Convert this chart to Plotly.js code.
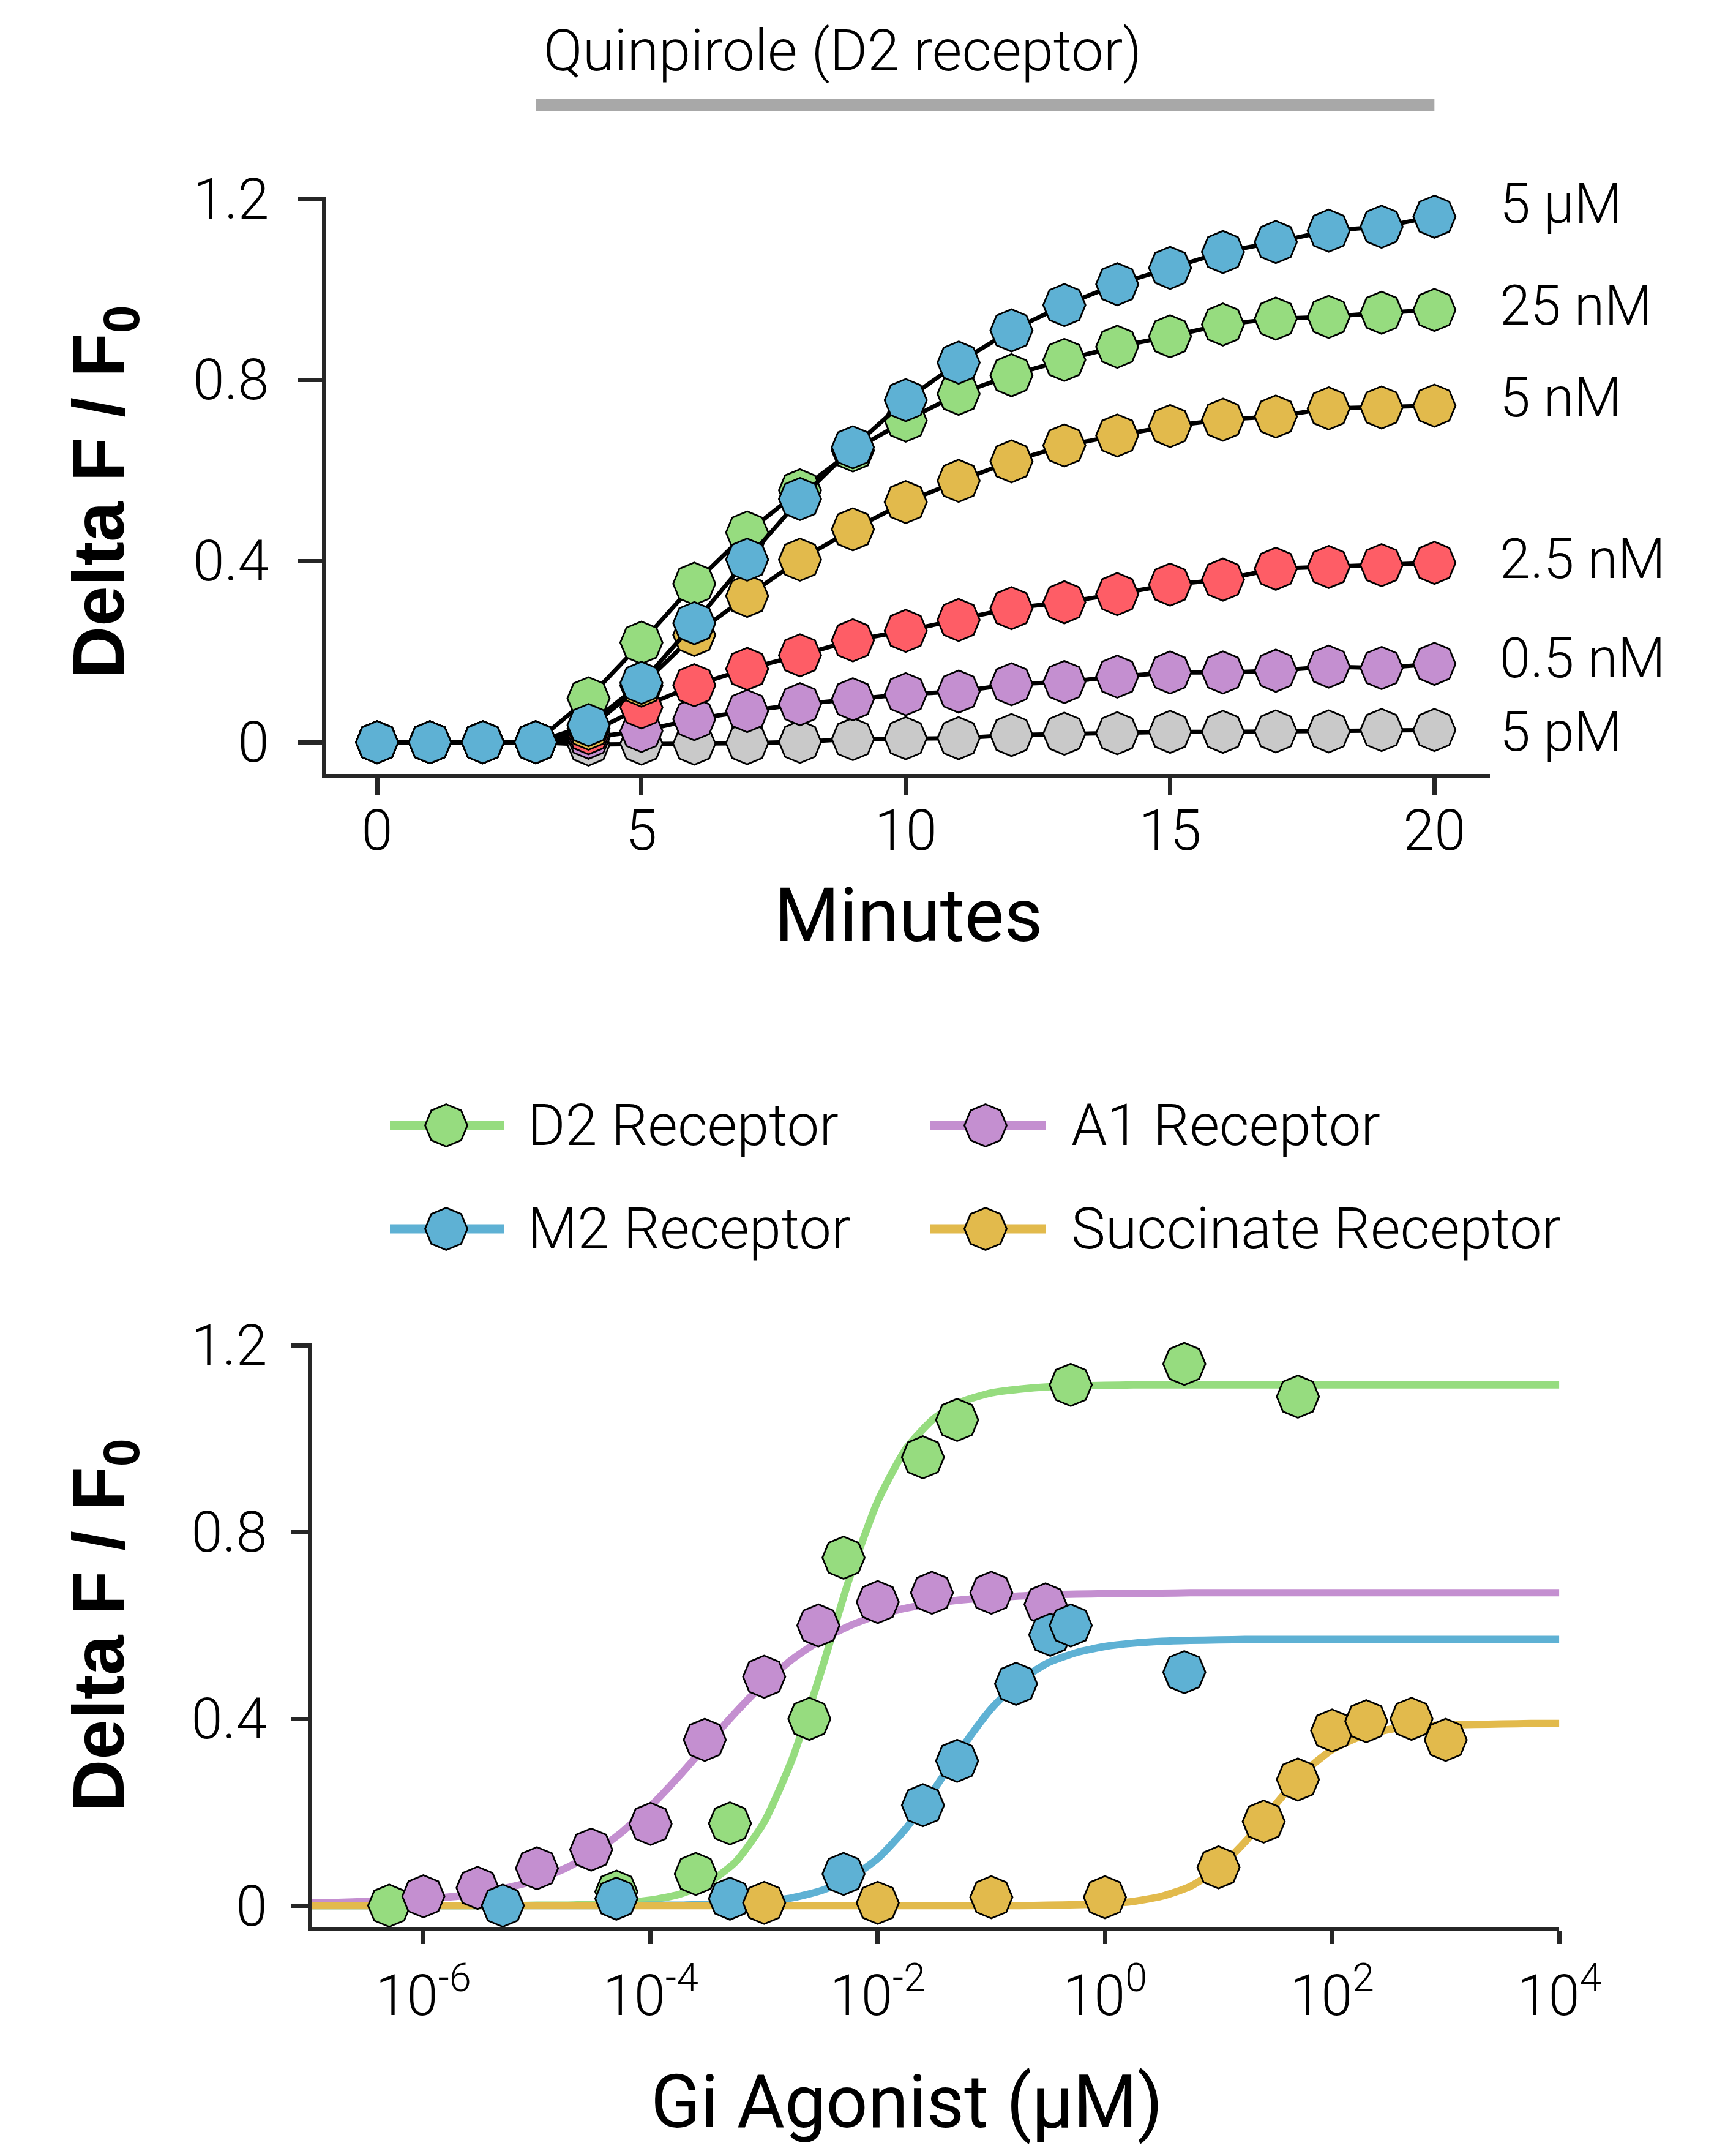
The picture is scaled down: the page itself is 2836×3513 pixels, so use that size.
<!DOCTYPE html>
<html>
<head>
<meta charset="utf-8">
<script src="https://cdn.plot.ly/plotly-3.0.1.min.js"></script>
<style>
html,body{margin:0;padding:0;background:#ffffff;}
#chart{width:2836px;height:3513px;}
</style>
</head>
<body>
<div id="chart"></div>
<script>
// ================= TOP PANEL DATA (time course) =================
const minutes = [0,1,2,3,4,5,6,7,8,9,10,11,12,13,14,15,16,17,18,19,20];
const doseLabels = ['5 pM', '0.5 nM', '2.5 nM', '5 nM', '25 nM', '5 \u00B5M'];
const resp5pM   = [0,0,0,0,-0.005,-0.003,-0.003,-0.002,0.001,0.007,0.009,0.009,0.016,0.019,0.02,0.023,0.023,0.024,0.024,0.027,0.027];
const resp05nM  = [0,0,0,0,0.01,0.025,0.051,0.069,0.084,0.095,0.106,0.112,0.128,0.133,0.145,0.154,0.154,0.158,0.167,0.164,0.173];
const resp25nM_ = [0,0,0,0,0.02,0.077,0.126,0.162,0.192,0.225,0.246,0.27,0.296,0.309,0.327,0.348,0.359,0.383,0.387,0.391,0.396];
const resp5nM   = [0,0,0,0,0.03,0.125,0.237,0.323,0.403,0.47,0.53,0.577,0.62,0.655,0.677,0.698,0.712,0.719,0.737,0.739,0.743];
const resp25nM  = [0,0,0,0,0.097,0.22,0.35,0.463,0.556,0.644,0.71,0.769,0.81,0.844,0.873,0.896,0.922,0.935,0.939,0.948,0.954];
const resp5uM   = [0,0,0,0,0.038,0.131,0.263,0.403,0.537,0.651,0.755,0.838,0.909,0.965,1.011,1.047,1.082,1.104,1.129,1.138,1.16];
const drugWindow = [3, 20];            // minutes during which quinpirole is applied
const drugLabel = 'Quinpirole (D2 receptor)';

// ================= BOTTOM PANEL DATA (dose response) =================
const receptorNames = ['D2 Receptor', 'A1 Receptor', 'M2 Receptor', 'Succinate Receptor'];
const d2Conc  = [5e-7, 5e-5, 2.5e-4, 5e-4, 2.5e-3, 5e-3, 2.5e-2, 5e-2, 0.5, 5, 50];
const d2Resp  = [0.0, 0.03, 0.068, 0.176, 0.40, 0.745, 0.96, 1.04, 1.115, 1.16, 1.09];
const a1Conc  = [1e-6, 3e-6, 1e-5, 3e-5, 1e-4, 3e-4, 1e-3, 3e-3, 1e-2, 3e-2, 0.1, 0.3];
const a1Resp  = [0.02, 0.038, 0.08, 0.12, 0.175, 0.355, 0.49, 0.60, 0.65, 0.67, 0.67, 0.645];
const m2Conc  = [5e-6, 5e-5, 5e-4, 5e-3, 2.5e-2, 5e-2, 0.165, 0.33, 0.5, 5];
const m2Resp  = [0.0, 0.015, 0.015, 0.068, 0.215, 0.31, 0.475, 0.58, 0.60, 0.50];
const sucConc = [1e-3, 1e-2, 0.1, 1, 10, 25, 50, 100, 200, 500, 1000];
const sucResp = [0.006, 0.006, 0.018, 0.018, 0.082, 0.18, 0.27, 0.375, 0.395, 0.40, 0.355];

// fitted curves (quarter-decade samples, uM)
const fitConc = [1e-7,1.78e-7,3.16e-7,5.62e-7, 1e-6,1.78e-6,3.16e-6,5.62e-6, 1e-5,1.78e-5,3.16e-5,5.62e-5,
                 1e-4,1.78e-4,3.16e-4,5.62e-4, 1e-3,1.78e-3,3.16e-3,5.62e-3, 1e-2,1.78e-2,3.16e-2,5.62e-2,
                 0.1,0.178,0.316,0.562, 1,1.78,3.16,5.62, 10,17.8,31.6,56.2, 100,178,316,562,
                 1000,1780,3160,5620, 10000];
const d2Fit  = [0,0,0,0,0,0,0,0,0.001, 0.001,0.003,0.006,0.012,0.024,0.048,0.094,0.179,0.316,0.50,0.70,0.866,0.979,1.044,1.08,1.098,1.106,1.111,1.113,1.114,
                1.115,1.115,1.115,1.115,1.115,1.115,1.115,1.115,1.115,1.115,1.115,1.115,1.115,1.115,1.115,1.115];
const a1Fit  = [0.006,0.007,0.009,0.011,0.014,0.019,0.026,0.039,0.055,0.080,0.113,0.158,0.213,0.277,0.346,0.414,0.476,0.528,0.569,0.599,0.622,0.637,0.648,0.655,0.660,0.663,0.666,0.667,0.668,
                0.669,0.669, 0.67,0.67,0.67,0.67,0.67,0.67,0.67,0.67,0.67,0.67,0.67,0.67,0.67,0.67];
const m2Fit  = [0,0,0,0,0,0,0,0,0,0,0,0, 0.001,0.001,0.003,0.005,0.009,0.017,0.032,0.058,0.101,0.166,0.250,0.341,0.422,0.481,0.520,0.542,0.555,0.562,0.566,0.568,0.569,
                0.57,0.57,0.57,0.57,0.57,0.57,0.57,0.57,0.57,0.57,0.57,0.57,0.57];
const sucFit = [0,0,0,0,0,0,0,0,0,0,0,0,0,0,0,0,0,0,0,0,0,0,0,0,0,0,
                0.001,0.002,0.004,0.009,0.020,0.041,0.080,0.141,0.216,0.285,0.334,0.362,0.377,0.384,0.387,0.388,0.389,0.39,0.39];

const logTickVals = [1e-6, 1e-4, 1e-2, 1, 1e2, 1e4];
const logTickText = ['10<sup>-6</sup>', '10<sup>-4</sup>', '10<sup>-2</sup>', '10<sup>0</sup>', '10<sup>2</sup>', '10<sup>4</sup>'];
const yTickVals = [0, 0.4, 0.8, 1.2];
const minuteTicks = [0, 5, 10, 15, 20];
const yTitleText = 'Delta F / F<sub>0</sub>';
const xTitleTop = 'Minutes';
const xTitleBottom = 'Gi Agonist (\u00B5M)';

// ================= STYLES / LAYOUT =================
const W = 2836, H = 3513;
const AX = '#262626';
const BLUE = '#5EB1D4', GREEN = '#96DC7F', YELLOW = '#E2BA4C', RED = '#FE5D66', PURPLE = '#C48FD0', GRAY = '#C9C9C9';
const doseColors = [GRAY, PURPLE, RED, YELLOW, GREEN, BLUE];
const receptorColors = [GREEN, PURPLE, BLUE, YELLOW];
const MS = 69;
const FONT = 'Roboto, "Open Sans", sans-serif';
const BOLD = '"Liberation Sans", Arial, sans-serif';
const markerStyle = (c) => ({symbol: 'octagon', angle: 22.5, size: MS, color: c, line: {color: '#000', width: 2.8}});
const px = (v) => v / W, py = (v) => 1 - v / H;

const traces = [];
const topSeries = [resp5pM, resp05nM, resp25nM_, resp5nM, resp25nM, resp5uM];
topSeries.forEach((ys, i) => {
  traces.push({type: 'scatter', mode: 'lines+markers', x: minutes, y: ys, name: doseLabels[i],
    xaxis: 'x', yaxis: 'y', cliponaxis: false, line: {color: '#000', width: 7}, marker: markerStyle(doseColors[i])});
});
const fits = [d2Fit, a1Fit, m2Fit, sucFit];
fits.forEach((ys, i) => {
  traces.push({type: 'scatter', mode: 'lines', x: fitConc, y: ys, name: receptorNames[i] + ' fit',
    xaxis: 'x2', yaxis: 'y2', cliponaxis: false, line: {color: receptorColors[i], width: 12, shape: 'spline', smoothing: 0.6}});
});
const pts = [[d2Conc, d2Resp], [a1Conc, a1Resp], [m2Conc, m2Resp], [sucConc, sucResp]];
pts.forEach((p, i) => {
  traces.push({type: 'scatter', mode: 'markers', x: p[0], y: p[1], name: receptorNames[i],
    xaxis: 'x2', yaxis: 'y2', cliponaxis: false, marker: markerStyle(receptorColors[i])});
});

// legend built in a hidden page-pixel subplot (native legend caps symbol size)
const legCol = [{l0: 637, l1: 823, m: 729, t: 860}, {l0: 1519, l1: 1709, m: 1610, t: 1748}];
const legRow = [1838, 2007];
const legPos = [[0, 0], [1, 0], [0, 1], [1, 1]];
const annotations = [];
receptorNames.forEach((nm, i) => {
  const c = legCol[legPos[i][0]], r = legRow[legPos[i][1]];
  traces.push({type: 'scatter', mode: 'lines', x: [c.l0, c.l1], y: [r, r], xaxis: 'x3', yaxis: 'y3',
    line: {color: receptorColors[i], width: 15}, showlegend: false, hoverinfo: 'skip'});
  traces.push({type: 'scatter', mode: 'markers', x: [c.m], y: [r], xaxis: 'x3', yaxis: 'y3',
    marker: markerStyle(receptorColors[i]), showlegend: false, hoverinfo: 'skip', cliponaxis: false});
  annotations.push({xref: 'paper', yref: 'paper', x: px(c.t), y: py(r), xanchor: 'left', yanchor: 'middle', showarrow: false,
    text: nm, font: {family: FONT, size: 94, weight: 300, color: '#000'}});
});

const doseLabelY = [0.0233, 0.1846, 0.4043, 0.7602, 0.9635, 1.1869];
doseLabels.forEach((t, i) => {
  annotations.push({xref: 'paper', yref: 'y', x: px(2448), y: doseLabelY[i], xanchor: 'left', yanchor: 'middle',
    showarrow: false, text: t, font: {family: FONT, size: 90, weight: 300, color: '#000'}});
});
annotations.push({xref: 'paper', yref: 'paper', x: px(886), y: py(83), xanchor: 'left', yanchor: 'middle',
  showarrow: false, text: drugLabel, font: {family: FONT, size: 94, weight: 300, color: '#000'}});
// axis titles
annotations.push({xref: 'paper', yref: 'paper', x: px(1483.7), y: py(1495), xanchor: 'center', yanchor: 'middle',
  showarrow: false, text: xTitleTop, font: {family: FONT, size: 122, weight: 400, color: '#000'}});
annotations.push({xref: 'paper', yref: 'paper', x: px(1481), y: py(3433), xanchor: 'center', yanchor: 'middle',
  showarrow: false, text: xTitleBottom, font: {family: FONT, size: 120, weight: 400, color: '#000'}});
annotations.push({xref: 'paper', yref: 'paper', x: px(170), y: py(803), xanchor: 'center', yanchor: 'middle', textangle: -90,
  showarrow: false, text: yTitleText, font: {family: BOLD, size: 118, weight: 700, color: '#000'}});
annotations.push({xref: 'paper', yref: 'paper', x: px(170), y: py(2654), xanchor: 'center', yanchor: 'middle', textangle: -90,
  showarrow: false, text: yTitleText, font: {family: BOLD, size: 118, weight: 700, color: '#000'}});

const shapes = [{type: 'line', xref: 'x', yref: 'paper', x0: drugWindow[0], x1: drugWindow[1],
  y0: py(171.6), y1: py(171.6), line: {color: '#A8A8A8', width: 20}}];

const tickFont = {family: FONT, size: 92, weight: 300, color: '#000'};
const baseAxis = {showline: true, linewidth: 7, linecolor: AX, ticks: 'outside', tickwidth: 7, tickcolor: AX,
  showgrid: false, zeroline: false, tickfont: tickFont, automargin: false, fixedrange: true};

const layout = {
  width: W, height: H, autosize: false,
  margin: {l: 0, r: 0, t: 0, b: 0, pad: 0, autoexpand: false},
  paper_bgcolor: '#ffffff', plot_bgcolor: 'rgba(0,0,0,0)',
  showlegend: false, hovermode: false,
  font: {family: FONT, color: '#000'},
  xaxis: Object.assign({}, baseAxis, {domain: [px(533), px(2434)], range: [-0.961, 21.05], tickvals: minuteTicks,
    ticklen: 27, anchor: 'y', ticklabelstandoff: -20}),
  yaxis: Object.assign({}, baseAxis, {domain: [py(1264), py(320.6)], range: [-0.0699, 1.205], tickvals: yTickVals,
    ticklen: 39, anchor: 'x', ticklabelstandoff: 29}),
  xaxis2: Object.assign({}, baseAxis, {domain: [px(510), px(2547.3)], type: 'log', range: [-6.979, 4.0], tickvals: logTickVals,
    ticktext: logTickText, ticklen: 21, anchor: 'y2', ticklabelstandoff: 6}),
  yaxis2: Object.assign({}, baseAxis, {domain: [py(3146.7), py(2193.2)], range: [-0.0451, 1.205], tickvals: yTickVals,
    ticklen: 27, anchor: 'x2', ticklabelstandoff: 21}),
  xaxis3: {domain: [0, 1], range: [0, W], visible: false, fixedrange: true, anchor: 'y3'},
  yaxis3: {domain: [0, 1], range: [H, 0], visible: false, fixedrange: true, anchor: 'x3'},
  annotations: annotations,
  shapes: shapes
};

Plotly.newPlot('chart', traces, layout, {displayModeBar: false, staticPlot: true});
</script>
</body>
</html>
